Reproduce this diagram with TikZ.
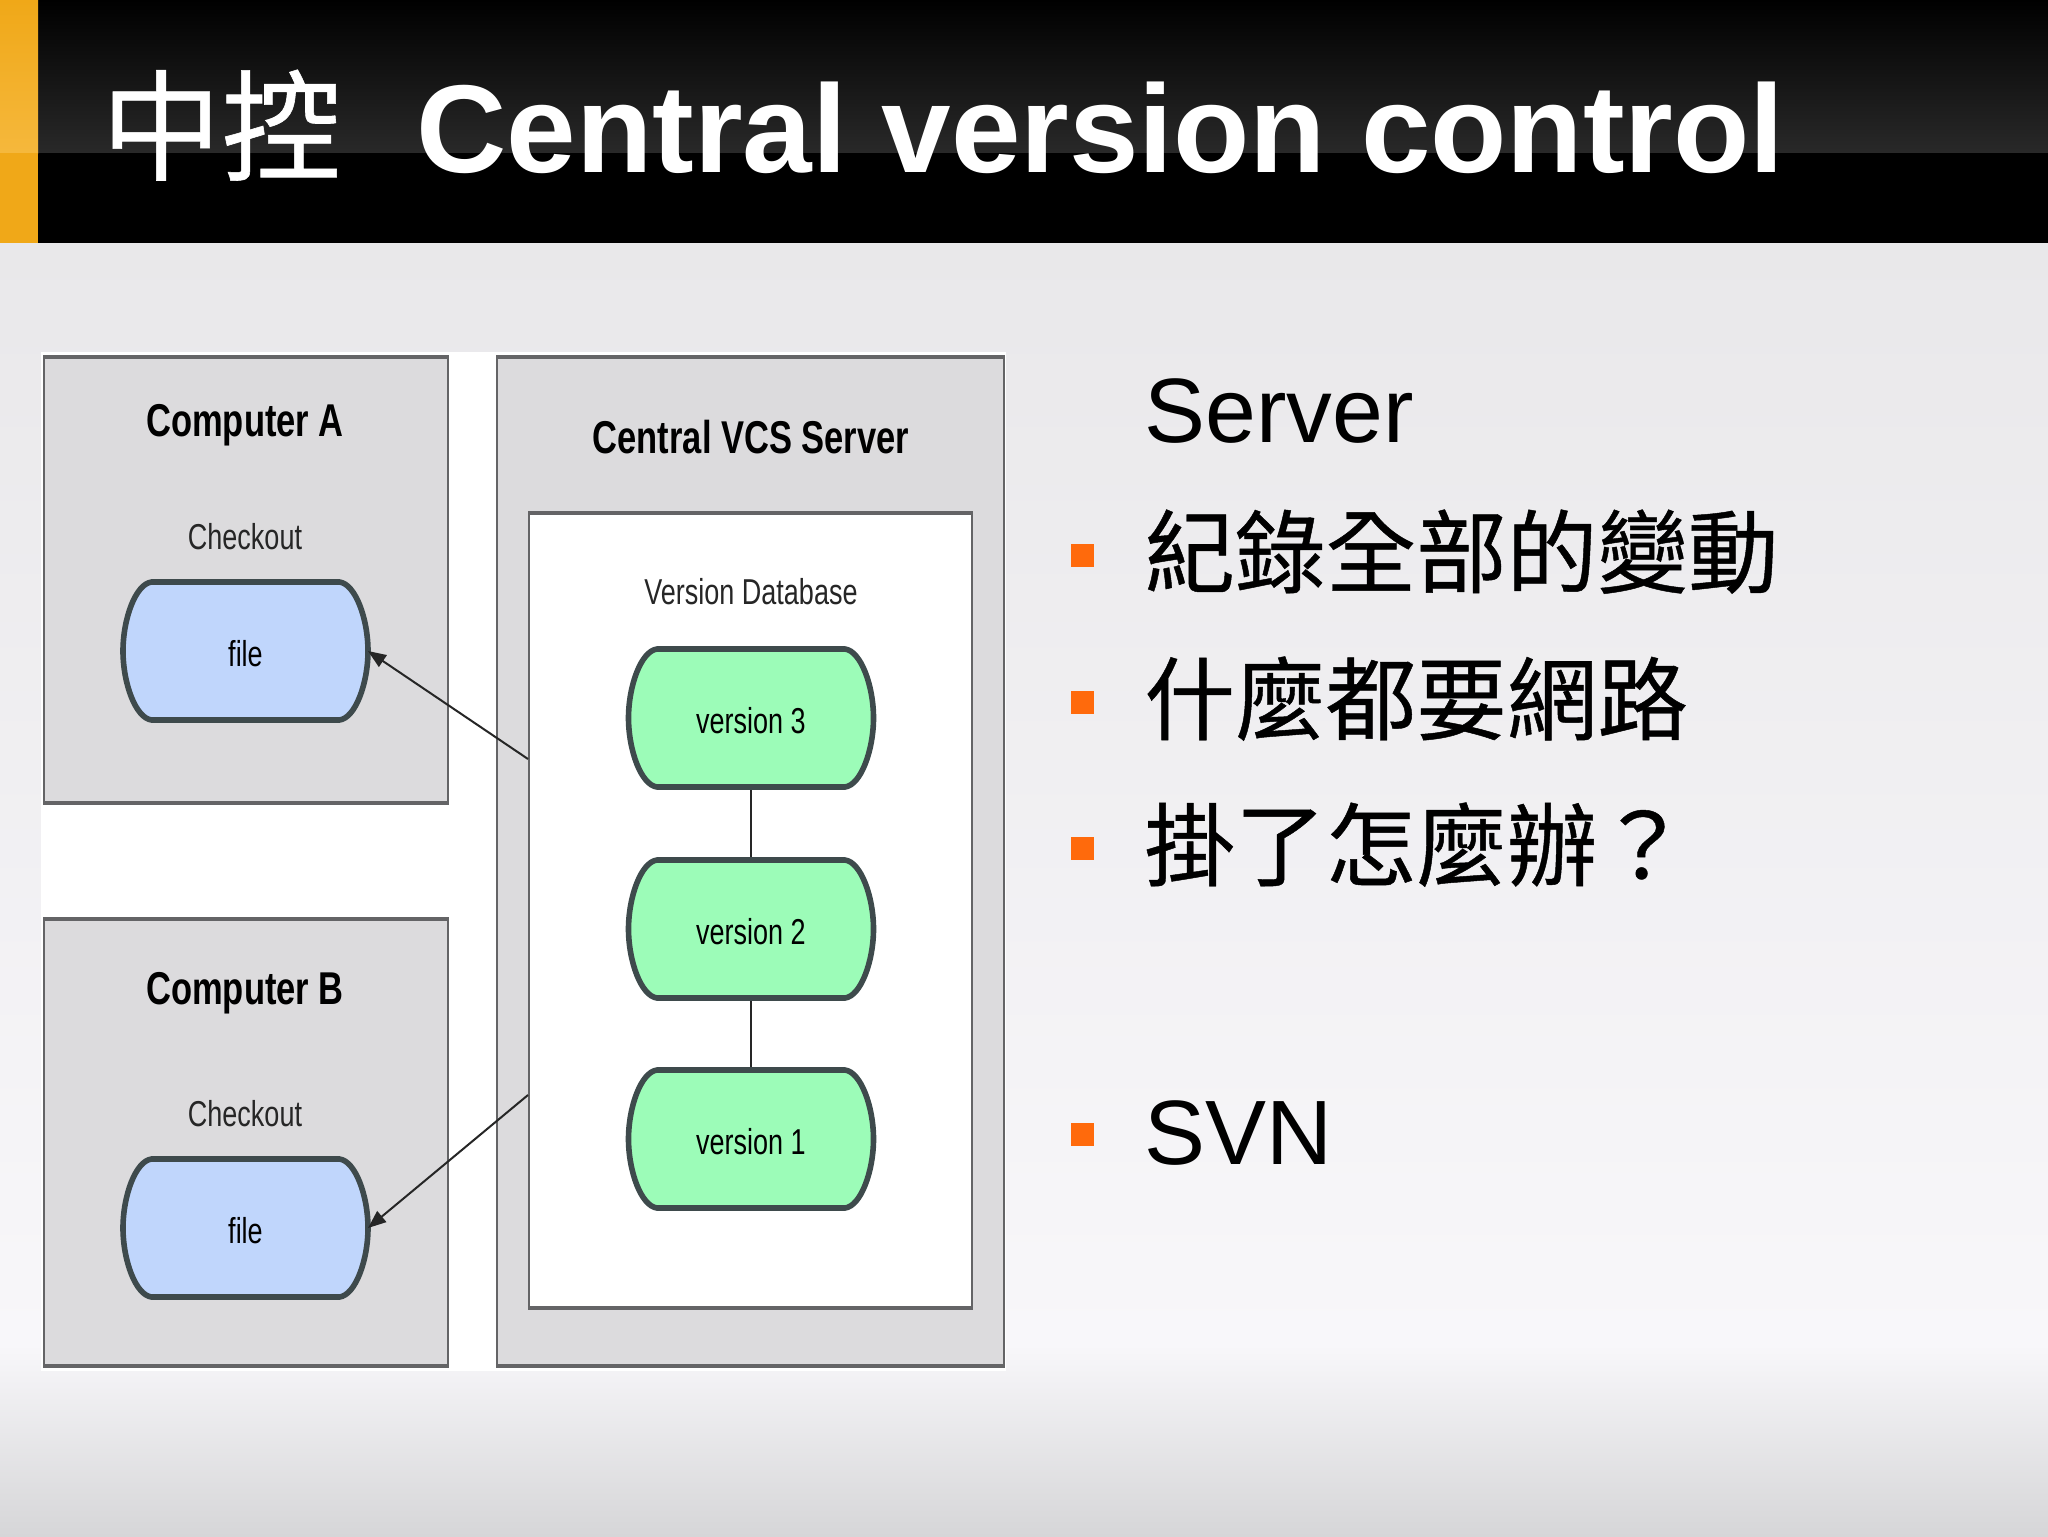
\documentclass[tikz,border=0pt]{standalone}
\usepackage{fontspec}
\usetikzlibrary{arrows.meta}
\setmainfont{Liberation Sans}
\newfontfamily\nar[FakeStretch=0.75]{Liberation Sans}
\newfontfamily\cjk[FakeBold=0.5]{Noto Sans CJK TC}
\definecolor{boxfill}{HTML}{DCDBDD}
\definecolor{boxline}{HTML}{646466}
\definecolor{pillline}{HTML}{3E4A4C}
\definecolor{bluefill}{HTML}{C0D6FC}
\definecolor{greenfill}{HTML}{9CFCB8}
\definecolor{bul}{HTML}{FF6A0C}
\definecolor{bgtop}{HTML}{E9E8EA}
\definecolor{bgmid}{HTML}{F8F7FA}
\definecolor{bgbot}{HTML}{D6D6D8}
\definecolor{barmain}{HTML}{F0A818}
\definecolor{barglow}{HTML}{F5B83C}
\tikzset{
  x=0.5pt,y=-0.5pt,
  panel/.style={draw=boxline,line width=1pt,fill=boxfill,rectangle,inner sep=0pt,anchor=north west},
  edgerule/.style={draw=boxline,line width=2.2pt},
  pillshape/.style={draw=pillline,line width=2.8pt,line join=round},
  pilltext/.style={rectangle,minimum width=122.5pt,minimum height=70pt,inner sep=0pt,outer sep=0pt,
     text height=15pt,text depth=0pt,font=\nar\fontsize{18}{18}\selectfont},
  smalllabel/.style={font=\nar\fontsize{18}{18}\selectfont,inner sep=0pt,text=black!85},
  boldlabel/.style={font=\nar\bfseries\fontsize{23}{23}\selectfont,inner sep=0pt,text=black},
  body/.style={anchor=base west,inner sep=0pt,font=\fontsize{45.7}{45.7}\selectfont},
  bodycjk/.style={anchor=base west,inner sep=0pt,font=\cjk\fontsize{45.3}{45.3}\selectfont},
  bulletbox/.style={fill=bul,inner sep=0pt,minimum width=11.5pt,minimum height=11.5pt,anchor=north west},
  link/.style={draw=black!85,line width=1pt},
  tip/.style={link,-{Triangle[length=9pt,width=7pt]}},
}
\newcommand\pillnode[5]{%
  \begin{scope}[shift={(#2,#3)}]
    \draw[pillshape,fill=#4] (-94,-69) -- (94,-69)
      .. controls (110,-67) and (122.5,-32) .. (122.5,0)
      .. controls (122.5,32) and (110,67) .. (94,69)
      -- (-94,69)
      .. controls (-110,67) and (-122.5,32) .. (-122.5,0)
      .. controls (-122.5,-32) and (-110,-67) .. (-94,-69) -- cycle;
  \end{scope}
  \node[pilltext] (#1) at (#2,#3) {#5};}
\begin{document}
\begin{tikzpicture}
\useasboundingbox (0,0) rectangle (2048,1536);
% background
\fill[top color=bgtop,bottom color=bgmid] (0,243) rectangle (2048,1345);
\fill[top color=bgmid,bottom color=bgbot] (0,1345) rectangle (2048,1536);
% header
\fill[top color=black,bottom color=black!84] (0,0) rectangle (2048,153);
\fill[black] (0,153) rectangle (2048,243);
\fill[top color=barmain,bottom color=barglow] (0,0) rectangle (38,153);
\fill[fill=barmain] (0,153) rectangle (38,243);
\node[anchor=base west,inner sep=0pt,text=white,font=\cjk\fontsize{60}{60}\selectfont] (titlecjk) at (101,171) {中控};
\node[anchor=base west,inner sep=0pt,text=white,font=\bfseries\fontsize{62.5}{62.5}\selectfont] (titlelat) at (416,172) {Central version control};
% white backing
\fill[white] (41,352) rectangle (1006,1371);
% panels
\node[panel,minimum width=202pt,minimum height=222pt] (compa) at (43,357) {};
\node[panel,minimum width=202pt,minimum height=222.5pt] (compb) at (43,919) {};
\node[panel,minimum width=253.5pt,minimum height=503.5pt] (server) at (496,357) {};
\node[panel,fill=white,minimum width=221.5pt,minimum height=396.5pt] (db) at (528,513) {};
\foreach \n in {compa,compb,server,db}{
  \draw[edgerule] (\n.north west) -- (\n.north east);
  \draw[edgerule] (\n.south west) -- (\n.south east);
}
% labels
\node[boldlabel] (la) at (245,425) {Computer A};
\node[boldlabel] (lb) at (245,993) {Computer B};
\node[boldlabel] (ls) at (751,437) {Central VCS Server};
\node[smalllabel] (ca) at (245,537) {Checkout};
\node[smalllabel] (cb) at (245,1114) {Checkout};
\node[smalllabel] (vd) at (751,592) {Version Database};
% pills
\pillnode{fa}{245.5}{651}{bluefill}{file}
\pillnode{fb}{245.5}{1228}{bluefill}{file}
\pillnode{v3}{751}{718}{greenfill}{version 3}
\pillnode{v2}{751}{929}{greenfill}{version 2}
\pillnode{v1}{751}{1139}{greenfill}{version 1}
% connectors
\draw[link,line width=0.8pt,shorten <=1pt,shorten >=1pt] (v3) -- (v2);
\draw[link,line width=0.8pt,shorten <=1pt,shorten >=1pt] (v2) -- (v1);
\coordinate (sa) at (528,759);
\coordinate (sb) at (528,1095);
\draw[tip] (sa) -- (fa.east);
\draw[tip] (sb) -- (fb.east);
% body
\node[body] (t0) at (1144,442) {Server};
\node[bulletbox] (b1) at (1071,544) {};
\node[bodycjk] (t1) at (1144,586) {紀錄全部的變動};
\node[bulletbox] (b2) at (1071,691) {};
\node[bodycjk] (t2) at (1144,733) {什麼都要網路};
\node[bulletbox] (b3) at (1071,837) {};
\node[bodycjk] (t3) at (1144,879) {掛了怎麼辦？};
\node[bulletbox] (b4) at (1071,1123) {};
\node[body] (t4) at (1144,1164) {SVN};
\end{tikzpicture}
\end{document}
